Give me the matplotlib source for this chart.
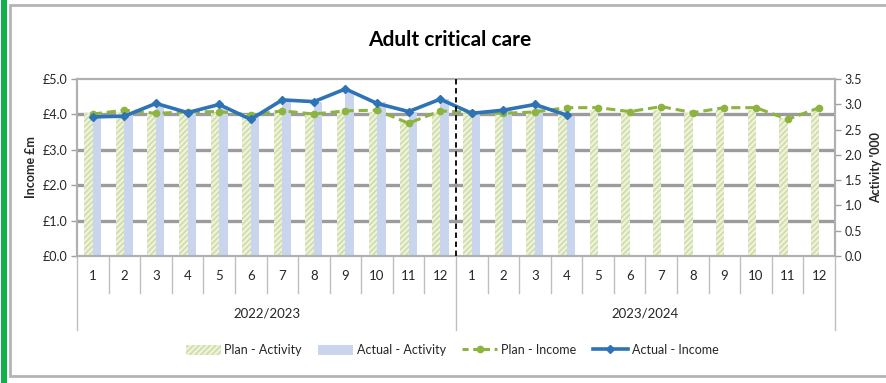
import matplotlib
matplotlib.use("Agg")
import matplotlib.pyplot as plt
from matplotlib.patches import Patch, Rectangle
from matplotlib.lines import Line2D
import matplotlib.transforms as mtransforms

plt.rcParams['font.family'] = ['Lato', 'DejaVu Sans']
plt.rcParams['hatch.linewidth'] = 1.2

# ---- data ----
years = ["2022/2023", "2023/2024"]
months = [str(m) for m in range(1, 13)]
plan_activity = [2.82, 2.85, 2.82, 2.84, 2.84, 2.80, 2.85, 2.82, 2.85, 2.85, 2.65, 2.85,
                 2.84, 2.84, 2.84, 2.88, 2.88, 2.82, 2.88, 2.82, 2.88, 2.88, 2.72, 2.88]
actual_activity = [2.80, 2.84, 3.00, 2.84, 2.96, 2.74, 3.08, 3.04, 3.24, 3.04, 2.84, 3.10,
                   2.84, 2.90, 2.96, 2.76]
plan_income = [4.01, 4.12, 4.03, 4.07, 4.08, 3.98, 4.10, 4.01, 4.10, 4.12, 3.75, 4.10,
               4.05, 4.03, 4.07, 4.19, 4.19, 4.08, 4.22, 4.05, 4.19, 4.19, 3.86, 4.19]
actual_income = [3.93, 3.95, 4.31, 4.05, 4.28, 3.86, 4.41, 4.36, 4.72, 4.31, 4.08, 4.43,
                 4.03, 4.12, 4.28, 3.98]
income_ticks = [0, 1, 2, 3, 4, 5]
activity_ticks = [0.0, 0.5, 1.0, 1.5, 2.0, 2.5, 3.0, 3.5]

GREEN_BAR = '#eef3dc'
GREEN_HATCH = '#cfdca8'
BLUE_BAR = '#c9d5ec'
GREEN_LINE = '#8cb43f'
BLUE_LINE = '#2e73b5'
GRID = '#9c9c9c'
TXT = '#262626'

W, H = 887, 383
fig = plt.figure(figsize=(W / 100, H / 100), dpi=100)
fig.patch.set_facecolor('white')

# green strip and framed panel (kept underneath the axes)
fig.add_artist(Rectangle((1 / W, 0), 6 / W, 1, transform=fig.transFigure,
                         facecolor='#12b04a', edgecolor='none', zorder=-10))
fig.add_artist(Rectangle((10 / W, 1 - 376 / H), (W + 5) / W, 371 / H,
                         transform=fig.transFigure, facecolor='white',
                         edgecolor='#b4b4b4', linewidth=2, zorder=-10))

left, right, top, bottom = 77, 835, 79, 256
ax_act = fig.add_axes([left / W, 1 - bottom / H, (right - left) / W, (bottom - top) / H])
ax_inc = ax_act.twinx()
ax_act.patch.set_visible(False)
ax_inc.set_zorder(ax_act.get_zorder() + 1)
ax_inc.patch.set_visible(False)

n = len(plan_activity)
x = list(range(n))
bw = 0.27

# horizontal grid at the income ticks, behind the bars
for v in income_ticks[1:-1]:
    ax_act.axhline(v * activity_ticks[-1] / income_ticks[-1], color=GRID, lw=2.4, zorder=0)

# activity bars
ax_act.bar([i - bw / 2 for i in x], plan_activity, width=bw, color=GREEN_BAR,
           edgecolor=GREEN_HATCH, linewidth=0, hatch='//////', zorder=2)
ax_act.bar([i + bw / 2 for i in range(len(actual_activity))], actual_activity,
           width=bw, color=BLUE_BAR, linewidth=0, zorder=2)

# income lines
ax_inc.plot(x, plan_income, color=GREEN_LINE, lw=2.2, ls=(0, (3, 1.6)),
            marker='o', ms=4.5, mfc=GREEN_LINE, mec=GREEN_LINE, zorder=4)
ax_inc.plot(range(len(actual_income)), actual_income, color=BLUE_LINE, lw=2.6,
            marker='D', ms=4.5, mfc=BLUE_LINE, mec=BLUE_LINE, zorder=5)

# year divider
ax_inc.axvline(11.5, color='black', lw=1.3, ls=(0, (3, 2)), zorder=6)

ax_act.set_xlim(-0.5, n - 0.5)
ax_inc.set_xlim(-0.5, n - 0.5)
ax_act.set_ylim(0, 3.5)
ax_inc.set_ylim(0, 5)

# axis placement: income on the left, activity on the right
ax_inc.yaxis.tick_left()
ax_inc.yaxis.set_label_position('left')
ax_act.yaxis.tick_right()
ax_act.yaxis.set_label_position('right')

ax_inc.set_yticks(income_ticks)
ax_inc.set_yticklabels([f"£{v:.1f}" for v in income_ticks])
ax_act.set_yticks(activity_ticks)
ax_act.set_yticklabels([f"{v:.1f}" for v in activity_ticks])
for a in (ax_inc, ax_act):
    a.tick_params(axis='y', length=4, width=1, color='#a0a0a0', labelsize=9,
                  labelcolor=TXT, pad=3)
    a.set_xticks([])
    for s in a.spines.values():
        s.set_color('#b0b0b0')
        s.set_linewidth(1.5)

ax_inc.set_ylabel("Income £m", fontsize=9, fontweight='bold', color=TXT, labelpad=4)
ax_act.set_ylabel("Activity '000", fontsize=9, fontweight='bold', color=TXT, labelpad=6)

# two-level category axis
trans = mtransforms.blended_transform_factory(ax_act.transData, ax_act.transAxes)
ph = bottom - top
def yfrac(py):
    return (bottom - py) / ph

sep_col = '#bfbfbf'
for i in range(n):
    ax_act.text(i, yfrac(276), months[i % 12], transform=trans, ha='center', va='center',
                fontsize=9.5, color=TXT, clip_on=False)
for b in range(1, n):
    if b % 12 == 0:
        continue
    ax_act.add_line(Line2D([b - 0.5, b - 0.5], [0, yfrac(293)], transform=trans,
                           color=sep_col, lw=1, clip_on=False))
for b in range(0, n + 1, 12):
    ax_act.add_line(Line2D([b - 0.5, b - 0.5], [0, yfrac(330)], transform=trans,
                           color=sep_col, lw=1, clip_on=False))
for g, yr in enumerate(years):
    ax_act.text(g * 12 + 5.5, yfrac(313), yr, transform=trans, ha='center', va='center',
                fontsize=9.5, color=TXT, clip_on=False)

# title
fig.text(450 / W, 1 - 40 / H, "Adult critical care", ha='center', va='center',
         fontsize=15, fontweight='bold', color='black')

# legend
handles = [
    Patch(facecolor=GREEN_BAR, edgecolor=GREEN_HATCH, hatch='//////', linewidth=0),
    Patch(facecolor=BLUE_BAR, edgecolor='none'),
    Line2D([], [], color=GREEN_LINE, lw=2.2, ls=(0, (2, 1.5)), marker='o', ms=4.5),
    Line2D([], [], color=BLUE_LINE, lw=2.6, marker='D', ms=4.5),
]
labels = ["Plan - Activity", "Actual - Activity", "Plan - Income", "Actual - Income"]
fig.legend(handles, labels, loc='center', bbox_to_anchor=(452 / W, 1 - 350 / H), ncol=4,
           frameon=False, fontsize=9, handlelength=2.8, handleheight=0.9,
           columnspacing=1.3, handletextpad=0.3, labelcolor=TXT)

fig.savefig("out.png", dpi=100, facecolor='white')
